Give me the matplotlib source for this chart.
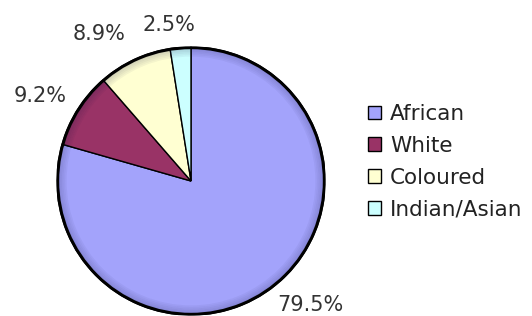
"""
Population share pie chart (African / White / Coloured / Indian-Asian).
"""

import numpy as np
import matplotlib
matplotlib.use("Agg")
import matplotlib.pyplot as plt
from matplotlib.patches import Wedge

groups = ['African', 'White', 'Coloured', 'Indian/Asian']
shares = [79.5, 9.2, 8.9, 2.5]
colors = ['#A3A3FB', '#993366', '#FFFFD2', '#CCFFFF']

plt.rcParams['font.family'] = ['DejaVu Sans']

W, H = 532, 316
fig = plt.figure(figsize=(W / 100, H / 100), dpi=100)

# pie centre and radius in pixels
cx, cy, r = 191, 181, 134
ax = fig.add_axes([(cx - r) / W, (H - cy - r) / H, 2 * r / W, 2 * r / H])
ax.axis('off')

wedges, _ = ax.pie(
    shares, colors=colors, startangle=90, counterclock=False, radius=1,
    wedgeprops=dict(edgecolor='black', linewidth=1.0))
ax.set_xlim(-1, 1)
ax.set_ylim(-1, 1)
ax.set_aspect('equal')

# percentage labels: nearest corner of the label sits on the mid-angle ray
dist = [1.065, 1.10, 1.16, 1.12]
for w, s, d in zip(wedges, shares, dist):
    ang = np.deg2rad((w.theta1 + w.theta2) / 2)
    c, sn = np.cos(ang), np.sin(ang)
    ha = 'left' if c > 0.15 else ('right' if c < -0.15 else 'center')
    va = 'top' if sn < 0 else 'baseline'
    x = d * c
    if ha == 'center':
        x -= 0.08  # label near the top sits a bit left of the ray
    ax.text(x, d * sn, f'{s}%', ha=ha, va=va,
            fontsize=15, color='#333333')

# soft dark bevel along the rim
for k in range(6):
    ax.add_patch(Wedge((0, 0), 1.0 - k * 0.012, 0, 360, width=0.012,
                       facecolor='#101040', edgecolor='none',
                       alpha=0.22 - k * 0.035))
ax.add_patch(Wedge((0, 0), 1.0, 0, 360, width=0.01,
                   facecolor='none', edgecolor='black', linewidth=1.2))

leg = fig.legend(wedges, groups, loc='upper left',
                 bbox_to_anchor=(368 / W, 1 - 104 / H),
                 frameon=False, fontsize=15.5, handlelength=0.6,
                 handleheight=0.6, handletextpad=0.42, labelspacing=0.55,
                 borderpad=0, borderaxespad=0)
for t in leg.get_texts():
    t.set_color('#222222')

plt.savefig('out.png', dpi=100)
